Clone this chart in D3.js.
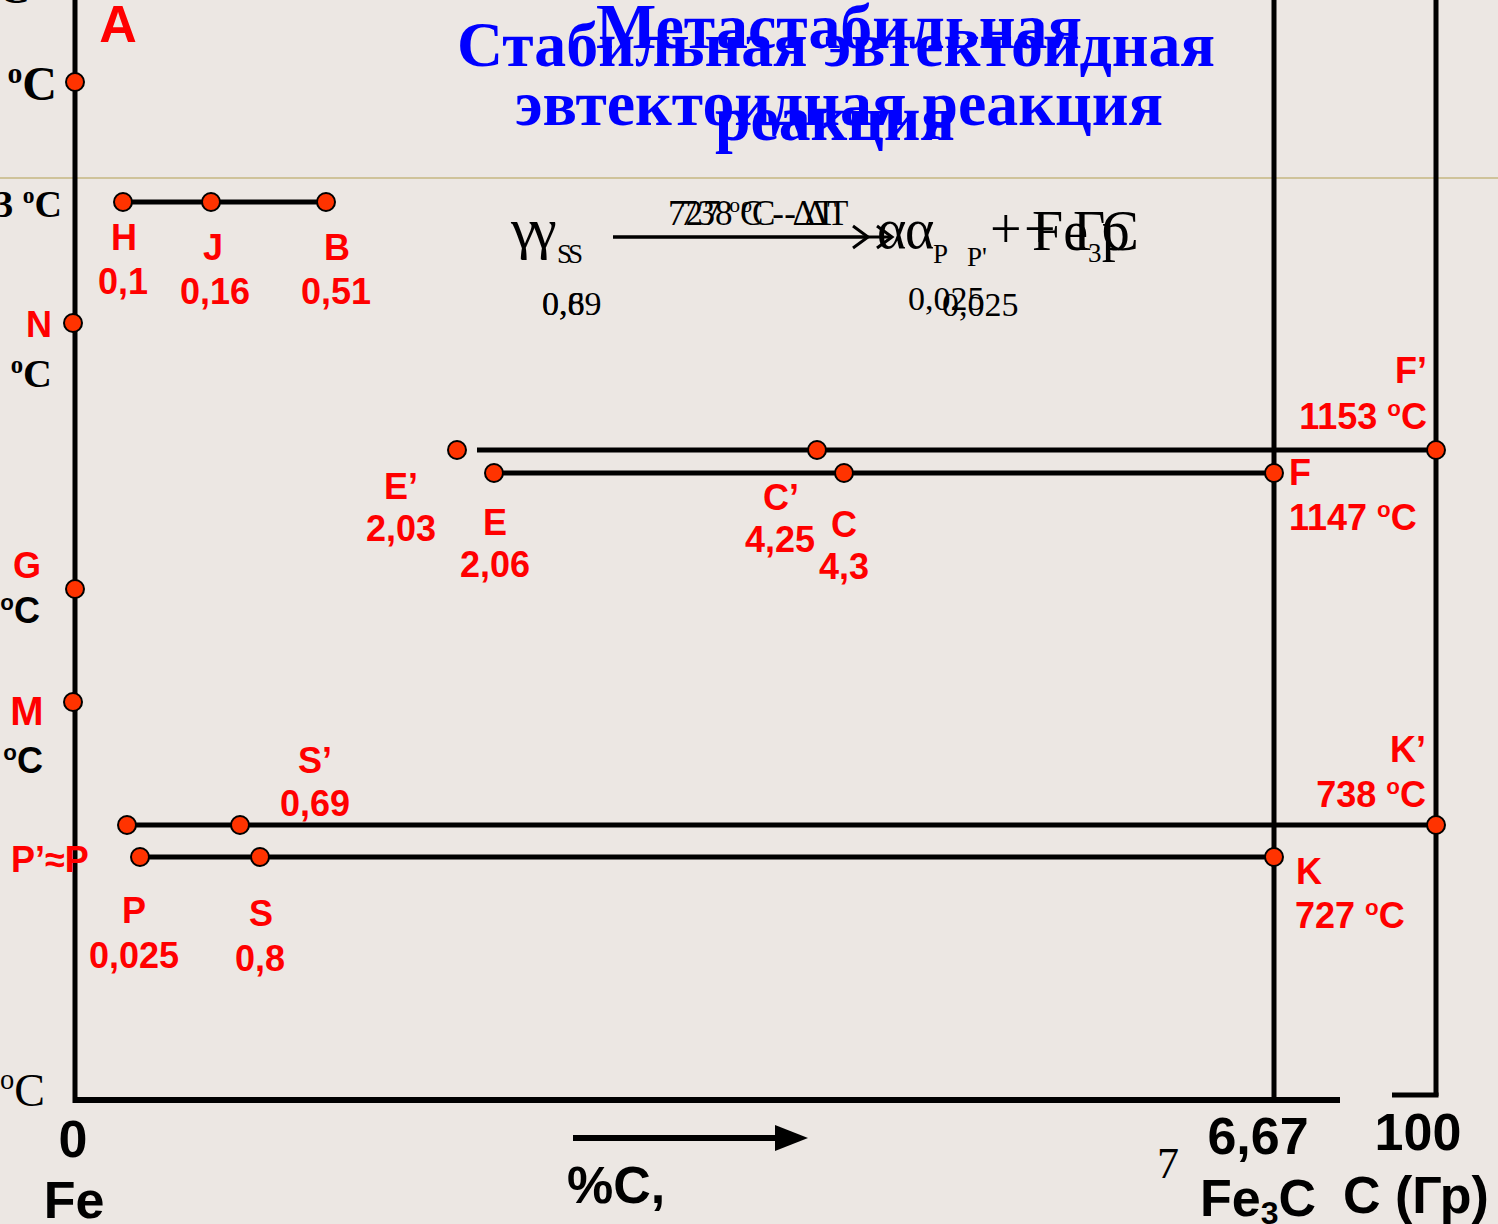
<!DOCTYPE html>
<html><head><meta charset="utf-8">
<script src="https://cdn.jsdelivr.net/npm/d3@7"></script>
<style>
html,body{margin:0;padding:0;background:#ECE7E3;overflow:hidden;}
svg{display:block;}
</style></head>
<body>
<svg id="chart" width="1498" height="1224"></svg>
<script>
// ---------- DATA ----------
const ironNames = ["A", "N", "G", "M"];
const ironTemps = [1539, 1392, 911, 768];

const peritecticNames = ["H", "J", "B"];
const peritecticComp = [0.1, 0.16, 0.51];
const peritecticTemp = 1499;

const eutecticNames = ["E", "C", "F"];
const eutecticComp = [2.06, 4.3, 6.67];
const eutecticTemp = 1147;

const stableEutecticNames = ["E’", "C’", "F’"];
const stableEutecticComp = [2.03, 4.25, 100];
const stableEutecticTemp = 1153;

const eutectoidNames = ["P", "S", "K"];
const eutectoidComp = [0.025, 0.8, 6.67];
const eutectoidTemp = 727;

const stableEutectoidNames = ["P’", "S’", "K’"];
const stableEutectoidComp = [0.025, 0.69, 100];
const stableEutectoidTemp = 738;

const leftTempLabels = ["1539", "1493", "1392", "911", "768", "0"];
const leftTempValues = [1539, 1499, 1392, 911, 768, 0];

const xTickLabels = ["0", "6,67", "100"];
const xTickComp = [0, 6.67, 100];

const titleStable = ["Стабильная эвтектоидная", "реакция"];
const titleMeta = ["Метастабильная", "эвтектоидная реакция"];

// ---------- SCALES (schematic, piecewise) ----------
const allTemps = [0, 727, 738, 768, 911, 1147, 1153, 1392, 1499, 1539];
const y = d3.scaleLinear().domain(allTemps)
  .range([1100, 857, 825, 702, 589, 473, 450, 323, 202, 82]);
const xMeta = d3.scaleLinear().domain([0, 0.025, 0.8, 2.06, 4.3, 6.67])
  .range([75, 140, 260, 494, 844, 1274]);
const xStable = d3.scaleLinear().domain([0, 0.025, 0.69, 2.03, 4.25, 100])
  .range([75, 127, 240, 457, 817, 1436]);
const xPerit = d3.scaleLinear().domain([0.1, 0.16, 0.51]).range([123, 211, 326]);

const svg = d3.select("#chart");
const RED = "#FF0000", DOT = "#FF3300", BLUE = "#0000FF";
const SANS = "'Liberation Sans', Arial, sans-serif";
const SERIF = "'Liberation Serif', 'Times New Roman', serif";

svg.append("rect").attr("width", 1498).attr("height", 1224).attr("fill", "#ECE7E3");
// tan separator line
svg.append("line").attr("x1", 0).attr("x2", 1498).attr("y1", 178).attr("y2", 178)
  .attr("stroke", "#CFC39A").attr("stroke-width", 2);

// ---------- helper for "°C" text ----------
function degText(g, x, yy, num, opts) {
  const t = g.append("text").attr("x", x).attr("y", yy)
    .attr("text-anchor", opts.anchor || "start")
    .attr("font-family", opts.family || SANS)
    .attr("font-weight", opts.weight || "bold")
    .attr("font-size", opts.size)
    .attr("fill", opts.fill || "#000");
  if (num !== "") t.append("tspan").text(num + " ");
  t.append("tspan").attr("font-size", opts.size * 0.62).attr("dy", -opts.size * 0.36).text("o");
  t.append("tspan").attr("dy", opts.size * 0.36).text("C" + (opts.tail || ""));
  return t;
}

// ---------- AXES / FRAME ----------
const bottomY = y(0);
svg.append("line").attr("x1", xMeta(0)).attr("x2", xMeta(0)).attr("y1", 0).attr("y2", bottomY + 3)
  .attr("stroke", "#000").attr("stroke-width", 5);
svg.append("line").attr("x1", xMeta(0) - 2).attr("x2", 1340).attr("y1", bottomY).attr("y2", bottomY)
  .attr("stroke", "#000").attr("stroke-width", 6);
svg.append("line").attr("x1", xMeta(6.67)).attr("x2", xMeta(6.67)).attr("y1", 0).attr("y2", bottomY)
  .attr("stroke", "#000").attr("stroke-width", 5);
svg.append("line").attr("x1", xStable(100)).attr("x2", xStable(100)).attr("y1", 0).attr("y2", bottomY - 4)
  .attr("stroke", "#000").attr("stroke-width", 5);
svg.append("line").attr("x1", 1392).attr("x2", xStable(100) + 2.5).attr("y1", bottomY - 5).attr("y2", bottomY - 5)
  .attr("stroke", "#000").attr("stroke-width", 5);

// ---------- horizontal isotherms ----------
function hline(x1, x2, yy) {
  svg.append("line").attr("x1", x1).attr("x2", x2).attr("y1", yy).attr("y2", yy)
    .attr("stroke", "#000").attr("stroke-width", 5);
}
hline(xPerit(0.1), xPerit(0.51), y(peritecticTemp));
hline(xStable(2.03) + 20, xStable(100), y(stableEutecticTemp));
hline(xMeta(2.06), xMeta(6.67), y(eutecticTemp));
hline(xStable(0.025), xStable(100), y(stableEutectoidTemp));
hline(xMeta(0.025), xMeta(6.67), y(eutectoidTemp));

// ---------- points ----------
const pts = [];
ironNames.forEach((n, i) => pts.push({ n, x: xMeta(0) + (n === "N" || n === "M" ? -2 : 0), y: y(ironTemps[i]) }));
peritecticNames.forEach((n, i) => pts.push({ n, x: xPerit(peritecticComp[i]), y: y(peritecticTemp) }));
eutecticNames.forEach((n, i) => pts.push({ n, x: xMeta(eutecticComp[i]), y: y(eutecticTemp) }));
stableEutecticNames.forEach((n, i) => pts.push({ n, x: xStable(stableEutecticComp[i]), y: y(stableEutecticTemp) }));
eutectoidNames.forEach((n, i) => pts.push({ n, x: xMeta(eutectoidComp[i]), y: y(eutectoidTemp) }));
stableEutectoidNames.forEach((n, i) => pts.push({ n, x: xStable(stableEutectoidComp[i]), y: y(stableEutectoidTemp) }));

svg.append("g").selectAll("circle").data(pts).join("circle")
  .attr("cx", d => d.x).attr("cy", d => d.y).attr("r", 9)
  .attr("fill", DOT).attr("stroke", "#000").attr("stroke-width", 2);

// ---------- red point labels ----------
const lab = svg.append("g").attr("fill", RED).attr("font-family", SANS).attr("font-weight", "bold");
function rtxt(t, x, yy, anchor, size) {
  lab.append("text").attr("x", x).attr("y", yy).attr("text-anchor", anchor || "middle")
    .attr("font-size", size || 36).attr("fill", RED).text(t);
}
const fmt = v => String(v).replace(".", ",");
const P = {}; pts.forEach(p => P[p.n] = p);

rtxt("A", P["A"].x + 43, 42, "middle", 52);
// peritectic
peritecticNames.forEach((n, i) => {
  const dx = [1, 2, 11][i], dy = [48, 58, 58][i];
  rtxt(n, P[n].x + dx, P[n].y + dy);
  rtxt(fmt(peritecticComp[i]), P[n].x + [0, 4, 10][i], P[n].y + dy + 44);
});
rtxt("N", 39, 337);
rtxt("G", 27, 578);
rtxt("M", 27, 725, "middle", 40);
// eutectic metastable
rtxt("E", P["E"].x + 1, 535); rtxt(fmt(2.06), P["E"].x + 1, 577);
rtxt("C", P["C"].x, 537); rtxt(fmt(4.3), P["C"].x, 579);
rtxt("F", P["F"].x + 15, 485, "start");
degText(svg, P["F"].x + 15, 530, "1147", { size: 36, fill: RED });
// eutectic stable
rtxt("E’", 401, 499); rtxt(fmt(2.03), 401, 541);
rtxt("C’", 781, 510); rtxt(fmt(4.25), 780, 552);
rtxt("F’", 1427, 383, "end");
degText(svg, 1427, 429, "1153", { size: 36, fill: RED, anchor: "end" });
// eutectoid stable
rtxt("S’", P["S’"].x + 75, 773); rtxt(fmt(0.69), P["S’"].x + 75, 816);
rtxt("K’", 1426, 762, "end");
degText(svg, 1426, 807, "738", { size: 36, fill: RED, anchor: "end" });
// eutectoid metastable
rtxt("P’≈P", 11, 872, "start");
rtxt("P", P["P"].x - 6, 923); rtxt(fmt(0.025), P["P"].x - 6, 968);
rtxt("S", P["S"].x + 1, 926); rtxt(fmt(0.8), P["S"].x, 971);
rtxt("K", P["K"].x + 22, 884, "start");
degText(svg, P["K"].x + 21, 928, "727", { size: 36, fill: RED });

// ---------- left temperature labels (clipped at left edge) ----------
const leftStyles = [
  { family: SERIF, size: 48, end: 57, dy: 18 },
  { family: SERIF, size: 38, end: 62, dy: 15 },
  { family: SERIF, size: 40, end: 52, dy: 64 },
  { family: SANS, size: 36, end: 40, dy: 34 },
  { family: SANS, size: 36, end: 43, dy: 71 },
  { family: SERIF, size: 46, end: 45, dy: 6, weight: "normal" }
];
leftTempLabels.forEach((t, i) => {
  const s = leftStyles[i];
  degText(svg, s.end, y(leftTempValues[i]) + s.dy, t, { size: s.size, family: s.family, anchor: "end", weight: s.weight || "bold" });
});
// clipped axis title fragment at top
degText(svg, 30, 3, "", { size: 44, family: SERIF, anchor: "end" });

// ---------- bottom axis labels ----------
const bl = svg.append("g").attr("font-family", SANS).attr("font-weight", "bold").attr("fill", "#000");
const tickPos = [xMeta(xTickComp[0]) - 2, xMeta(xTickComp[1]) - 16, xStable(xTickComp[2]) - 18];
const tickBase = [1157, 1154, 1150];
xTickLabels.forEach((t, i) => {
  bl.append("text").attr("x", tickPos[i]).attr("y", tickBase[i]).attr("text-anchor", "middle")
    .attr("font-size", 52).text(t);
});
bl.append("text").attr("x", 74).attr("y", 1218).attr("text-anchor", "middle").attr("font-size", 52).text("Fe");
bl.append("text").attr("x", 567).attr("y", 1203).attr("font-size", 52).text("%C,");
const fe3c = bl.append("text").attr("x", 1200).attr("y", 1216).attr("font-size", 52);
fe3c.append("tspan").text("Fe");
fe3c.append("tspan").attr("font-size", 32).attr("dy", 8).text("3");
fe3c.append("tspan").attr("dy", -8).text("C");
bl.append("text").attr("x", 1343).attr("y", 1213).attr("font-size", 52).text("C (Гр)");
svg.append("text").attr("x", 1157).attr("y", 1178).attr("font-family", SERIF).attr("font-size", 44).text("7");
// arrow under axis
svg.append("line").attr("x1", 573).attr("x2", 780).attr("y1", 1138).attr("y2", 1138).attr("stroke", "#000").attr("stroke-width", 6);
svg.append("path").attr("d", d3.line()([[775, 1125], [808, 1138], [775, 1151]]) + "Z").attr("fill", "#000");

// ---------- blue titles ----------
const tt = svg.append("g").attr("font-family", SERIF).attr("font-weight", "bold").attr("fill", BLUE)
  .attr("font-size", 64).attr("text-anchor", "middle");
tt.append("text").attr("x", 839).attr("y", 48).attr("textLength", 486).attr("lengthAdjust", "spacingAndGlyphs").text(titleMeta[0]);
tt.append("text").attr("x", 839).attr("y", 125).attr("textLength", 648).attr("lengthAdjust", "spacingAndGlyphs").text(titleMeta[1]);
tt.append("text").attr("x", 836).attr("y", 66).attr("textLength", 758).attr("lengthAdjust", "spacingAndGlyphs").text(titleStable[0]);
tt.append("text").attr("x", 835).attr("y", 140).attr("textLength", 240).attr("lengthAdjust", "spacingAndGlyphs").text(titleStable[1]);

// ---------- reaction formulas (two overlaid versions) ----------
const rx = svg.append("g").attr("font-family", SERIF).attr("fill", "#000");
function reaction(o) {
  const g = rx.append("g");
  g.append("text").attr("x", o.gx).attr("y", 248).attr("font-size", 58).text("γ");
  g.append("text").attr("x", o.sx).attr("y", 263).attr("font-size", 27).text(o.sub);
  degText(g, o.tx, 225, o.temp, { size: 35, family: SERIF, weight: "normal", tail: " - ΔT" });
  g.append("line").attr("x1", 613).attr("x2", o.arrow).attr("y1", 237).attr("y2", 237)
    .attr("stroke", "#000").attr("stroke-width", 3);
  g.append("path").attr("d", d3.line()([[o.arrow - 15, 226], [o.arrow, 237], [o.arrow - 15, 248]]))
    .attr("fill", "none").attr("stroke", "#000").attr("stroke-width", 3);
  g.append("text").attr("x", o.ax).attr("y", 248).attr("font-size", 56).text("α");
  g.append("text").attr("x", o.px).attr("y", o.py).attr("font-size", 27).text(o.psub);
  g.append("text").attr("x", o.plx).attr("y", 248).attr("font-size", 56).text("+");
  const ph = g.append("text").attr("x", o.phx).attr("y", 250).attr("font-size", 56);
  o.phase.forEach(p => {
    const s = ph.append("tspan").text(p.t);
    if (p.sub) s.attr("font-size", 27).attr("dy", 12);
    if (p.back) s.attr("dy", -12);
  });
  g.append("text").attr("x", 542).attr("y", o.n1y).attr("font-size", 34).text(o.n1);
  g.append("text").attr("x", o.n2x).attr("y", o.n2y).attr("font-size", 34).text(o.n2);
}
reaction({ gx: 511, sx: 557, sub: "S", tx: 668, temp: "727", arrow: 868, ax: 877, px: 933, py: 263, psub: "P", plx: 990,
  phx: 1032, phase: [{ t: "Fe" }, { t: "3", sub: true }, { t: "C", back: true }],
  n1y: 315, n1: fmt(0.8), n2x: 908, n2y: 310, n2: fmt(0.025) });
reaction({ gx: 531, sx: 568, sub: "S", tx: 680, temp: "738", arrow: 892, ax: 905, px: 967, py: 266, psub: "P'", plx: 1024,
  phx: 1073, phase: [{ t: "Гр" }],
  n1y: 315, n1: fmt(0.69), n2x: 942, n2y: 316, n2: fmt(0.025) });
</script>
</body></html>
